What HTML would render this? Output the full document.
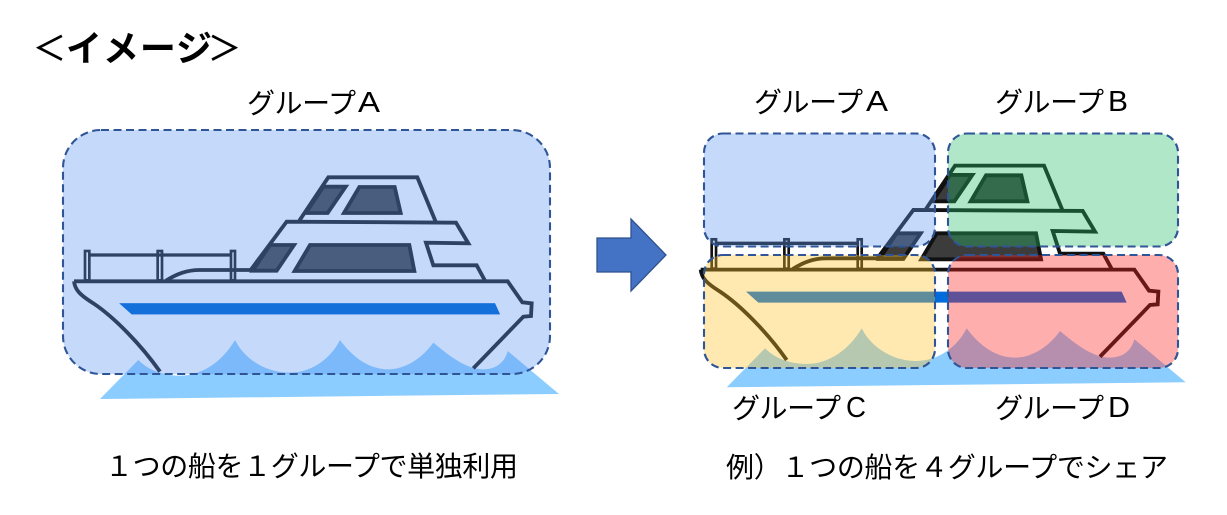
<!DOCTYPE html>
<html><head><meta charset="utf-8"><style>html,body{margin:0;padding:0;background:#fff}svg{display:block}text{font-family:"Liberation Sans","Noto Sans CJK JP",sans-serif;fill:#000}</style></head><body>
<svg width="1227" height="515" viewBox="0 0 1227 515" xmlns="http://www.w3.org/2000/svg">
<defs>
<g id="boat">
<path d="M120,837 L235,720 C260,745 300,767 360,767 C430,767 490,720 525,660 C555,720 620,758 690,758 C750,758 810,720 840,660 C880,715 930,748 985,748 C1040,748 1090,710 1120,668 C1170,710 1220,748 1270,748 C1310,748 1335,725 1343,693 L1497,822 Z" fill="#8ccdff"/>
<path d="M178,550 L1305,550 L1320,583 L215,583 Z" fill="#006cdc"/>
<g fill="#3c3c3c" stroke="#111" stroke-width="11.5" stroke-linejoin="miter">
<path d="M578,452 L650,452 L702,375 L630,375 Z"/>
<path d="M704,453 L1063,453 L1048,375 L750,375 Z"/>
<path d="M738,279 L803,279 L857,200 L790,200 Z"/>
<path d="M852,279 L1022,279 L1004,201 L898,201 Z"/>
</g>
<g fill="none" stroke="#111" stroke-width="11.5" stroke-linejoin="miter">
<path d="M42,484 L1343,484 L1387,547 L1415,550 L1413,588 L1390,590 L1240,745"/>
<path d="M42,484 C45,510 60,525 100,550 C160,590 240,670 300,755"/>
<path d="M318,482 C350,462 380,450 420,450 L575,450"/>
<path d="M572,450 L680,305 L1188,308 L1225,370 L1098,368 L1120,436 L1250,436 L1275,482"/>
<path d="M718,302 L805,172 L1072,172 L1127,305"/>
<path d="M90,405 L510,405" stroke-width="10"/>
<rect x="75" y="393" width="13" height="88" stroke-width="8"/>
<rect x="293" y="393" width="13" height="88" stroke-width="8"/>
<rect x="513" y="393" width="12" height="88" stroke-width="8"/>
</g>
</g>
</defs>

<use href="#boat" transform="translate(60,120) scale(.33333)"/>
<use href="#boat" transform="translate(686.7,108.3) scale(.33333)"/>

<g stroke="#2f5597" stroke-width="2.1" stroke-dasharray="8 4.5">
<rect x="63" y="130" width="487" height="244" rx="38" fill="rgba(98,153,245,.37)"/>
<rect x="704" y="133.5" width="231" height="113" rx="19" fill="rgba(98,153,245,.37)"/>
<rect x="948" y="133.5" width="230" height="113" rx="19" fill="rgba(42,190,107,.37)"/>
<rect x="704" y="255" width="231" height="113" rx="19" fill="rgba(255,195,40,.37)"/>
<rect x="948" y="255" width="230" height="113" rx="19" fill="rgba(255,36,36,.37)"/>
</g>
<path d="M119.3,303.3 L495,303.3 L500,314.3 L131.7,314.3 Z" fill="#136fd9"/>

<path d="M597,238 H631 V219 L666,255 L631,291 V272 H597 Z" fill="#4472c4" stroke="#2f528f" stroke-width="1.3"/>

<text x="33" y="60" font-size="33" stroke="#000" stroke-width=".5">＜</text>
<text x="66" y="61" font-size="36" font-weight="700" textLength="146">イメージ</text>
<text x="208" y="60" font-size="33" stroke="#000" stroke-width=".5">＞</text>

<text x="247" y="113" font-size="28" textLength="109">グループ</text>
<text x="358" y="112" font-size="29" textLength="22" lengthAdjust="spacingAndGlyphs">A</text>
<text x="754" y="112" font-size="28" textLength="109">グループ</text>
<text x="866" y="111" font-size="29" textLength="22" lengthAdjust="spacingAndGlyphs">A</text>
<text x="995" y="112" font-size="28" textLength="109">グループ</text>
<text x="1108" y="111" font-size="29" textLength="20" lengthAdjust="spacingAndGlyphs">B</text>
<text x="732" y="418" font-size="28" textLength="109">グループ</text>
<text x="846" y="417" font-size="29" textLength="20" lengthAdjust="spacingAndGlyphs">C</text>
<text x="995" y="418" font-size="28" textLength="109">グループ</text>
<text x="1108" y="417" font-size="29" textLength="22" lengthAdjust="spacingAndGlyphs">D</text>
<text x="105" y="476" font-size="28" textLength="413">１つの船を１グループで単独利用</text>
<text x="726" y="477" font-size="28" textLength="442">例）１つの船を４グループでシェア</text>
</svg>
</body></html>
